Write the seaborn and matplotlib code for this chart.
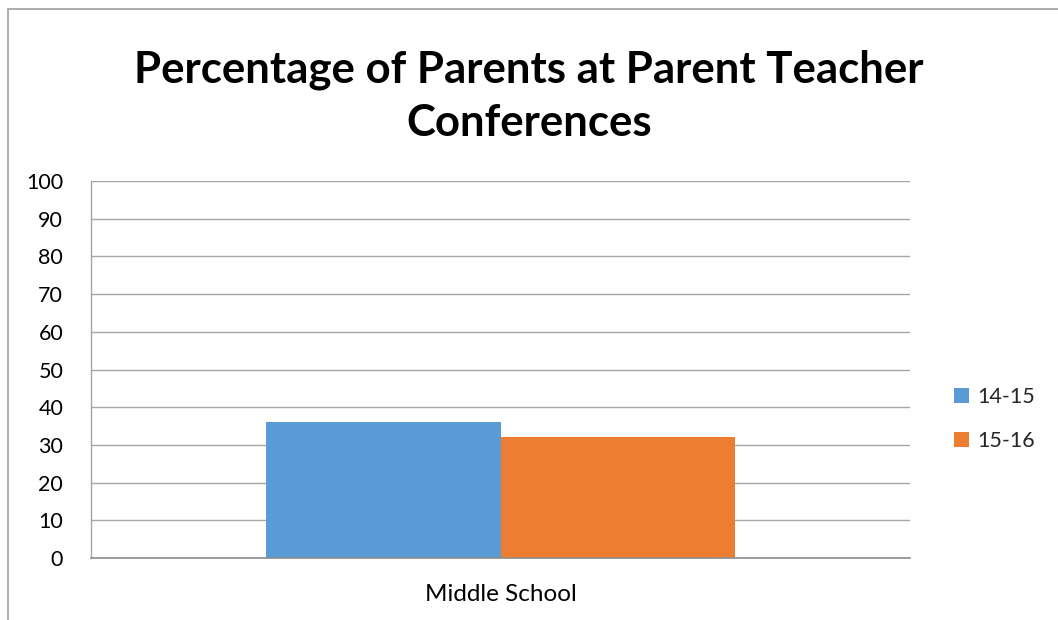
import matplotlib
matplotlib.use("Agg")
import matplotlib.pyplot as plt
import seaborn as sns
import pandas as pd
from matplotlib.patches import Rectangle

categories = ["Middle School"]
series = ["14-15", "15-16"]
values_1415 = [36]
values_1516 = [32]
yticks = [0, 10, 20, 30, 40, 50, 60, 70, 80, 90, 100]
colors = ["#5B9BD5", "#ED7D31"]

rows = []
for c, v in zip(categories, values_1415):
    rows.append({"cat": c, "year": series[0], "val": v})
for c, v in zip(categories, values_1516):
    rows.append({"cat": c, "year": series[1], "val": v})
df = pd.DataFrame(rows)

sns.set_theme(style="white")
plt.rcParams["font.family"] = ["Lato", "DejaVu Sans"]

fig = plt.figure(figsize=(10.58, 6.2), dpi=100)
ax = fig.add_axes([91/1058, 1-558/620, (910-91)/1058, (558-181)/620])

sns.barplot(data=df, x="cat", y="val", hue="year", palette=colors,
            width=0.573, gap=0, saturation=1, linewidth=0, ax=ax, legend=True)

ax.set_ylim(0, 100)
ax.set_xlim(-0.5, 0.5)
ax.set_yticks(yticks)
ax.set_yticklabels([str(t) for t in yticks], fontsize=15.5, color="#000000")
ax.tick_params(axis="x", labelsize=17.5, colors="#000000", length=0, pad=19)
ax.tick_params(axis="y", length=0, pad=20)
ax.set_xlabel("")
ax.set_ylabel("")
ax.set_axisbelow(True)
ax.yaxis.grid(True, color="#a6a6a6", linewidth=1)
for s in ["top", "right"]:
    ax.spines[s].set_visible(False)
ax.spines["left"].set_color("#a6a6a6")
ax.spines["bottom"].set_color("#8c8c8c")
ax.spines["left"].set_linewidth(1)
ax.spines["bottom"].set_linewidth(1.2)

handles, labels = ax.get_legend_handles_labels()
ax.legend(handles, labels, loc="center left", bbox_to_anchor=(1.054, 0.369),
          frameon=False, fontsize=15.5, handlelength=0.7, handleheight=0.7,
          handletextpad=0.35, labelspacing=1.1, borderaxespad=0, borderpad=0)

fig.text(0.5, 1-70/620, "Percentage of Parents at Parent Teacher", ha="center",
         va="center", fontsize=31.5, fontweight="bold", color="#000000")
fig.text(0.5, 1-123/620, "Conferences", ha="center",
         va="center", fontsize=31.5, fontweight="bold", color="#000000")

fig.patches.append(Rectangle((8/1058, -0.1), 1.2, 1.1 - 9/620,
                             transform=fig.transFigure, fill=False,
                             edgecolor="#a0a0a0", linewidth=1.2))

fig.savefig("out.png", dpi=100)
